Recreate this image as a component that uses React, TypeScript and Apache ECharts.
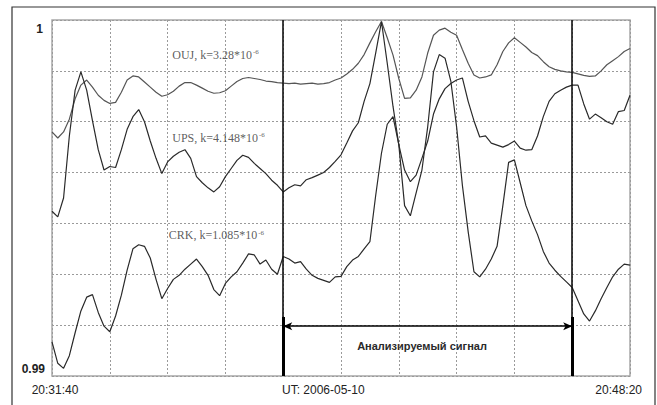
import React, { useEffect, useRef } from "react";
import * as echarts from "echarts";

const sampleStepSec = 10;

// values in grid units (0 = 0.99 ... 7 = 1)
const oujValues = [
  4.80, 4.68, 4.80, 5.05, 5.45, 5.72, 5.82, 5.68, 5.52, 5.42,
  5.36, 5.38, 5.58, 5.82, 5.90, 5.88, 5.78, 5.68, 5.58, 5.50,
  5.53, 5.60, 5.70, 5.77, 5.77, 5.72, 5.66, 5.60, 5.56, 5.57,
  5.61, 5.70, 5.79, 5.85, 5.87, 5.85, 5.83, 5.80, 5.79, 5.77,
  5.76, 5.75, 5.76, 5.74, 5.75, 5.76, 5.74, 5.75, 5.77, 5.82,
  5.86, 5.94, 6.03, 6.15, 6.32, 6.55, 6.77, 6.97, 6.65, 6.31,
  5.85, 5.46, 5.47, 5.62, 5.88, 6.35, 6.70, 6.80, 6.84, 6.76,
  6.70, 6.42, 6.15, 5.92, 5.86, 5.88, 5.92, 6.12, 6.38, 6.55,
  6.65, 6.56, 6.47, 6.36, 6.30, 6.18, 6.08, 6.03, 6.00, 5.98,
  5.97, 5.94, 5.91, 5.89, 5.90, 6.00, 6.12, 6.20, 6.28, 6.38,
  6.44,
];

const upsValues = [
  3.24, 3.13, 3.50, 4.72, 5.62, 5.98, 5.62, 5.02, 4.45, 4.05,
  4.12, 4.10, 4.45, 4.85, 5.10, 5.24, 5.00, 4.62, 4.28, 3.98,
  4.21, 4.32, 4.40, 4.45, 4.28, 3.92, 3.80, 3.70, 3.62, 3.72,
  3.92, 4.08, 4.24, 4.34, 4.30, 4.18, 4.08, 3.98, 3.85, 3.75,
  3.62, 3.70, 3.76, 3.74, 3.86, 3.90, 3.95, 4.00, 4.10, 4.22,
  4.35, 4.58, 4.82, 4.98, 5.40, 5.75, 6.35, 6.97, 6.15, 5.30,
  4.55, 4.05, 3.82, 3.95, 4.28, 4.62, 5.15, 5.45, 5.65, 5.75,
  5.82, 5.86, 5.40, 5.02, 4.70, 4.72, 4.58, 4.54, 4.50, 4.55,
  4.62, 4.48, 4.44, 4.45, 4.72, 5.10, 5.40, 5.55, 5.62, 5.68,
  5.72, 5.72, 5.35, 5.05, 5.15, 5.08, 5.00, 4.95, 5.20, 5.22,
  5.52,
];

const crkValues = [
  0.67, 0.25, 0.15, 0.40, 0.85, 1.28, 1.55, 1.60, 1.25, 0.98,
  0.87, 1.18, 1.59, 2.08, 2.50, 2.58, 2.55, 2.32, 1.90, 1.52,
  1.72, 1.90, 1.98, 2.10, 2.20, 2.30, 2.15, 1.98, 1.70, 1.58,
  1.82, 1.95, 2.05, 2.22, 2.40, 2.38, 2.20, 2.28, 2.10, 2.00,
  2.35, 2.30, 2.22, 2.25, 2.10, 1.98, 1.92, 1.88, 1.84, 1.95,
  1.96, 2.15, 2.28, 2.35, 2.50, 2.64, 3.55, 4.38, 4.95, 5.10,
  4.55, 3.35, 3.15, 3.60, 4.05, 4.90, 5.98, 6.32, 6.25, 5.80,
  4.90, 3.75, 2.84, 2.05, 1.95, 2.10, 2.30, 2.55, 3.35, 4.20,
  4.25, 3.80, 3.35, 3.05, 2.78, 2.45, 2.22, 2.08, 1.96, 1.85,
  1.74, 1.48, 1.22, 1.08, 1.28, 1.52, 1.74, 1.95, 2.10, 2.20,
  2.18,
];

const timeLabels = ["20:31:40", "UT: 2006-05-10", "20:48:20"];
const yLabels = ["1", "0.99"];
const seriesNames = ["OUJ, k=3.28*10", "UPS, k=4.148*10", "CRK, k=1.085*10"];
const seriesExponent = "-6";
const nameAnchorSec = [208, 208, 202];
const nameAnchorVal = [6.32, 4.68, 2.77];
const windowStartSec = 400;
const windowEndSec = 900;
const signalLabel = "Анализируемый сигнал";

const toPairs = (vals: number[]) => vals.map((v, i) => [i * sampleStepSec, v]);

export default function App() {
  const ref = useRef<HTMLDivElement>(null);
  useEffect(() => {
    if (!ref.current) return;
    const chart = echarts.init(ref.current, undefined, { renderer: "svg" });
    const sans = "'Liberation Sans', Arial, sans-serif";
    const serif = "'Liberation Serif', 'Times New Roman', serif";
    const dotted = { color: "#9a9a9a", width: 1, type: [2, 2] as number[] };
    const lineSeries = (name: string, vals: number[], color: string, extra: any = {}) => ({
      type: "line",
      name,
      data: toPairs(vals),
      showSymbol: false,
      symbol: "none",
      lineStyle: { color, width: 1.2 },
      z: 3,
      ...extra,
    });
    chart.setOption({
      animation: false,
      backgroundColor: "#fff",
      grid: {
        left: 52,
        top: 20,
        right: 27,
        bottom: 29,
        show: true,
        borderColor: "#a8a8a8",
        borderWidth: 1.5,
      },
      xAxis: {
        type: "value",
        min: 0,
        max: 1000,
        interval: 100,
        axisLine: { show: false },
        axisTick: { show: false },
        axisLabel: { show: false },
        splitLine: { show: true, lineStyle: dotted },
      },
      yAxis: {
        type: "value",
        min: 0,
        max: 7,
        interval: 1,
        axisLine: { show: false },
        axisTick: { show: false },
        axisLabel: { show: false },
        splitLine: { show: true, lineStyle: dotted },
      },
      series: [
        lineSeries("OUJ", oujValues, "#555"),
        lineSeries("UPS", upsValues, "#2a2a2a"),
        lineSeries("CRK", crkValues, "#2a2a2a", {
          markLine: {
            silent: true,
            symbol: ["none", "none"],
            label: { show: false },
            animation: false,
            data: [
              [
                { coord: [windowStartSec, 0], lineStyle: { color: "#111", width: 1.6, type: "solid" } },
                { coord: [windowStartSec, 7] },
              ],
              [
                { coord: [windowEndSec, 0], lineStyle: { color: "#111", width: 1.6, type: "solid" } },
                { coord: [windowEndSec, 7] },
              ],
              [
                { coord: [windowStartSec, 0], lineStyle: { color: "#000", width: 3, type: "solid" } },
                { coord: [windowStartSec, 1.16] },
              ],
              [
                { coord: [windowEndSec, 0], lineStyle: { color: "#000", width: 3, type: "solid" } },
                { coord: [windowEndSec, 1.16] },
              ],
              [
                {
                  coord: [windowStartSec, 0.98],
                  symbol: "arrow",
                  symbolSize: [6, 9],
                  lineStyle: { color: "#000", width: 1.6, type: "solid" },
                },
                { coord: [windowEndSec, 0.98], symbol: "arrow", symbolSize: [6, 9] },
              ],
            ],
          },
        }),
        {
          type: "scatter",
          symbolSize: 0,
          z: 5,
          silent: true,
          data: seriesNames.map((n, i) => ({ value: [nameAnchorSec[i], nameAnchorVal[i]], name: n })),
          label: {
            show: true,
            position: "right",
            distance: 0,
            formatter: (p: any) => `{a|${p.name}}{s|${seriesExponent}}`,
            rich: {
              a: { fontFamily: serif, fontSize: 12, color: "#333" },
              s: { fontFamily: serif, fontSize: 7, color: "#333", verticalAlign: "top", padding: [0, 0, 0, 1] },
            },
          },
        },
      ],
      graphic: [
        {
          type: "rect",
          shape: { x: 12, y: 7, width: 643, height: 420 },
          style: { fill: "none", stroke: "#333", lineWidth: 1.2 },
          silent: true,
        },
        {
          type: "text",
          x: 43,
          y: 29,
          style: { text: yLabels[0], font: `bold 12px ${sans}`, fill: "#222", align: "right", verticalAlign: "middle" },
        },
        {
          type: "text",
          x: 45,
          y: 369,
          style: { text: yLabels[1], font: `bold 12px ${sans}`, fill: "#222", align: "right", verticalAlign: "middle" },
        },
        {
          type: "text",
          x: 55,
          y: 390,
          style: { text: timeLabels[0], font: `12px ${sans}`, fill: "#222", align: "center", verticalAlign: "middle" },
        },
        {
          type: "text",
          x: 282,
          y: 390,
          style: { text: timeLabels[1], font: `12px ${sans}`, fill: "#222", align: "left", verticalAlign: "middle" },
        },
        {
          type: "text",
          x: 642,
          y: 390,
          style: { text: timeLabels[2], font: `12px ${sans}`, fill: "#222", align: "right", verticalAlign: "middle" },
        },
        {
          type: "text",
          x: 422,
          y: 346,
          style: { text: signalLabel, font: `bold 11px ${sans}`, fill: "#2a2a2a", align: "center", verticalAlign: "middle" },
        },
      ],
    });
    return () => chart.dispose();
  }, []);
  return (
    <div
      ref={ref}
      style={{ position: "fixed", left: 0, top: 0, width: 657, height: 405, background: "#fff" }}
    />
  );
}
